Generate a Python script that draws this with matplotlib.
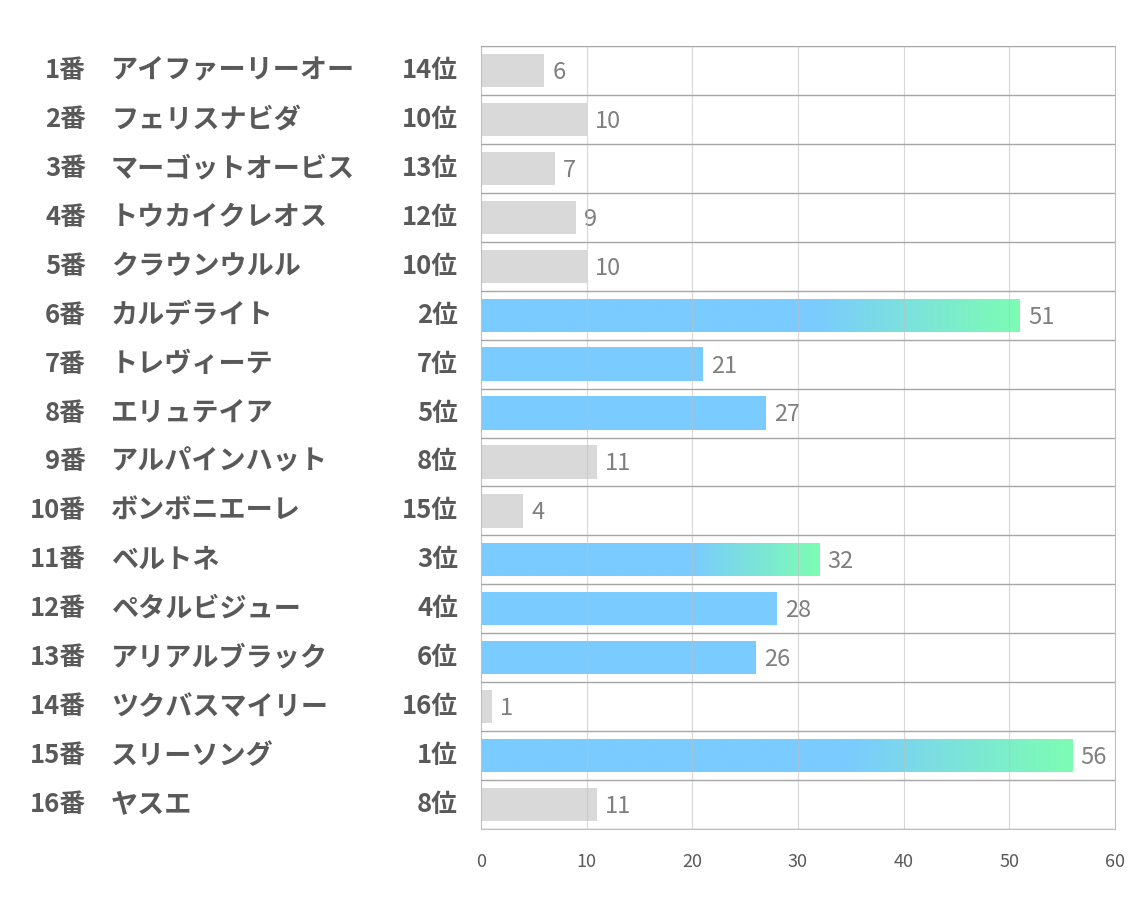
import numpy as np
import matplotlib
matplotlib.use("Agg")
import matplotlib.pyplot as plt
from matplotlib.colors import LinearSegmentedColormap
from matplotlib.patches import Rectangle

plt.rcParams['font.family'] = ['Noto Sans CJK JP', 'DejaVu Sans']

numbers = ["1番", "2番", "3番", "4番", "5番", "6番", "7番", "8番",
           "9番", "10番", "11番", "12番", "13番", "14番", "15番", "16番"]
names = ["アイファーリーオー", "フェリスナビダ", "マーゴットオービス", "トウカイクレオス",
         "クラウンウルル", "カルデライト", "トレヴィーテ", "エリュテイア",
         "アルパインハット", "ボンボニエーレ", "ベルトネ", "ペタルビジュー",
         "アリアルブラック", "ツクバスマイリー", "スリーソング", "ヤスエ"]
ranks = [14, 10, 13, 12, 10, 2, 7, 5, 8, 15, 3, 4, 6, 16, 1, 8]
values = [6, 10, 7, 9, 10, 51, 21, 27, 11, 4, 32, 28, 26, 1, 56, 11]

GRAY = "#D9D9D9"
BLUE = "#7ACBFF"
GREEN = "#7DFDB3"
TXT = "#595959"

fig = plt.figure(figsize=(11.34, 9.07), dpi=100)
ax = fig.add_axes([481 / 1134, 1 - 829 / 907, 634 / 1134, 783 / 907])

n = len(values)
ys = np.arange(n)
bar_h = 0.68
grad = LinearSegmentedColormap.from_list("g", [(0, BLUE), (0.62, BLUE), (1, GREEN)])

for y, v, r in zip(ys, values, ranks):
    if r <= 3:
        rect = Rectangle((0, y - bar_h / 2), v, bar_h, facecolor="none", edgecolor="none")
        ax.add_patch(rect)
        im = ax.imshow(np.linspace(0, 1, 256).reshape(1, -1), cmap=grad, aspect="auto",
                       extent=(0, v, y + bar_h / 2, y - bar_h / 2), zorder=2)
        im.set_clip_path(rect)
    else:
        ax.barh(y, v, height=bar_h, color=BLUE if r <= 7 else GRAY, zorder=2)
    ax.text(v + 0.75, y + 0.04, str(v), va="center", ha="left", fontsize=17, color="#7F7F7F")

trans = ax.get_yaxis_transform()
for y, num, name, r in zip(ys, numbers, names, ranks):
    ax.text((86 - 481) / 634, y, num, transform=trans, ha="right", va="center",
            fontsize=18.5, fontweight="bold", color=TXT)
    ax.text((111 - 481) / 634, y, name, transform=trans, ha="left", va="center",
            fontsize=19.5, fontweight="bold", color=TXT)
    ax.text((458 - 481) / 634, y, f"{r}位", transform=trans, ha="right", va="center",
            fontsize=18.5, fontweight="bold", color=TXT)

ax.set_xlim(0, 60)
ax.set_ylim(n - 0.5, -0.5)
ax.set_xticks(range(0, 61, 10))
ax.set_yticks([])
for x in range(10, 60, 10):
    ax.axvline(x, color="#BFBFBF", lw=0.8, alpha=0.6, zorder=3)
for b in np.arange(-0.5, n, 1):
    ax.axhline(b, color="#A6A6A6", lw=1.0, zorder=3)
for s in ax.spines.values():
    s.set_color("#BFBFBF")
    s.set_linewidth(0.8)
ax.tick_params(axis="x", length=0, pad=17, labelsize=13, labelcolor=TXT)

fig.savefig("out.png", dpi=100)
